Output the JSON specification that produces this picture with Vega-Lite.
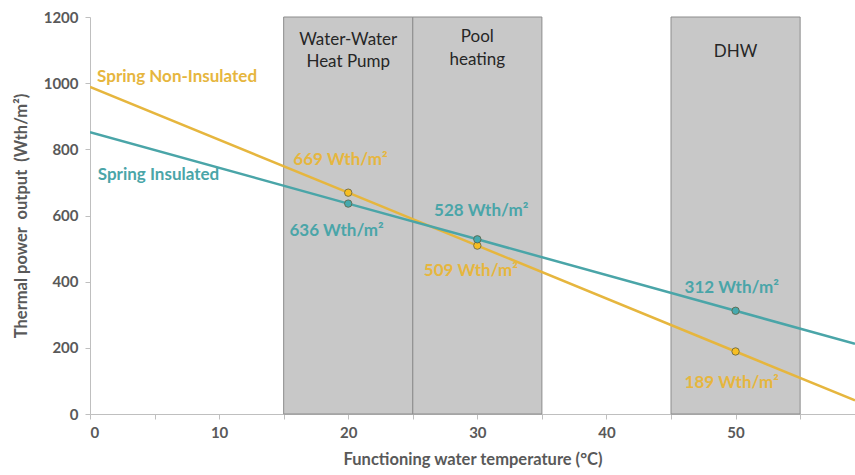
{
  "$schema": "https://vega.github.io/schema/vega-lite/v6.json",
  "width": 765,
  "height": 397,
  "autosize": {"type": "none"},
  "padding": {"left": 90, "top": 17, "right": 0, "bottom": 61},
  "background": "white",
  "config": {"view": {"stroke": null}, "font": "Lato"},
  "datasets": {
    "zones": [
      {"zone": "Water-Water Heat Pump", "start": 15, "end": 25, "top": 1200, "bottom": 0},
      {"zone": "Pool heating", "start": 25, "end": 35, "top": 1200, "bottom": 0},
      {"zone": "DHW", "start": 45, "end": 55, "top": 1200, "bottom": 0}
    ],
    "zoneLabels": [
      {"text": "Water-Water", "x": 20, "y": 1130},
      {"text": "Heat Pump", "x": 20, "y": 1063},
      {"text": "Pool", "x": 30, "y": 1140},
      {"text": "heating", "x": 30, "y": 1070},
      {"text": "DHW", "x": 50, "y": 1093}
    ],
    "lines": [
      {"series": "Spring Non-Insulated", "temp": 0, "power": 989, "marker": false},
      {"series": "Spring Non-Insulated", "temp": 20, "power": 669, "marker": true},
      {"series": "Spring Non-Insulated", "temp": 30, "power": 509, "marker": true},
      {"series": "Spring Non-Insulated", "temp": 50, "power": 189, "marker": true},
      {"series": "Spring Non-Insulated", "temp": 59.25, "power": 41, "marker": false},
      {"series": "Spring Insulated", "temp": 0, "power": 852, "marker": false},
      {"series": "Spring Insulated", "temp": 20, "power": 636, "marker": true},
      {"series": "Spring Insulated", "temp": 30, "power": 528, "marker": true},
      {"series": "Spring Insulated", "temp": 50, "power": 312, "marker": true},
      {"series": "Spring Insulated", "temp": 59.25, "power": 212, "marker": false}
    ],
    "seriesNotes": [
      {"series": "Spring Non-Insulated", "text": "Spring Non-Insulated", "x": 0.55, "y": 1018},
      {"series": "Spring Insulated", "text": "Spring Insulated", "x": 0.6, "y": 722}
    ],
    "valueNotes": [
      {"series": "Spring Non-Insulated", "text": "669 Wth/m²", "x": 19.4, "y": 767},
      {"series": "Spring Insulated", "text": "636 Wth/m²", "x": 19.1, "y": 553},
      {"series": "Spring Insulated", "text": "528 Wth/m²", "x": 30.3, "y": 613},
      {"series": "Spring Non-Insulated", "text": "509 Wth/m²", "x": 29.5, "y": 432},
      {"series": "Spring Insulated", "text": "312 Wth/m²", "x": 49.7, "y": 381},
      {"series": "Spring Non-Insulated", "text": "189 Wth/m²", "x": 49.7, "y": 94}
    ]
  },
  "layer": [
    {
      "data": {"name": "zones"},
      "mark": {"type": "rect", "fill": "#C8C8C8", "stroke": "#8C8C8C", "strokeWidth": 1},
      "encoding": {
        "x": {
          "field": "start", "type": "quantitative",
          "scale": {"domain": [0, 59.25], "nice": false, "zero": false},
          "axis": {
            "values": [0, 5, 10, 15, 20, 25, 30, 35, 40, 45, 50, 55],
            "labelExpr": "datum.value % 10 === 0 ? datum.label : ''",
            "title": "Functioning water temperature (°C)",
            "grid": false,
            "domainColor": "#BFBFBF", "tickColor": "#BFBFBF", "tickSize": 5,
            "labelFontSize": 15, "labelFontWeight": "bold", "labelColor": "#595959", "labelPadding": 6,
            "titleFontSize": 16.5, "titleFontWeight": "bold", "titleColor": "#595959", "titlePadding": 11
          }
        },
        "x2": {"field": "end"},
        "y": {
          "field": "top", "type": "quantitative",
          "scale": {"domain": [0, 1200], "nice": false},
          "axis": {
            "values": [0, 200, 400, 600, 800, 1000, 1200],
            "format": "d",
            "title": "Thermal power\u00a0 output\u00a0 (Wth/m²)",
            "grid": false,
            "domainColor": "#BFBFBF", "tickColor": "#BFBFBF", "tickSize": 5,
            "labelFontSize": 15, "labelFontWeight": "bold", "labelColor": "#595959", "labelPadding": 7,
            "titleFontSize": 16.5, "titleFontWeight": "bold", "titleColor": "#595959", "titlePadding": 14
          }
        },
        "y2": {"field": "bottom"}
      }
    },
    {
      "data": {"name": "zoneLabels"},
      "mark": {"type": "text", "fontSize": 17, "color": "#262626", "align": "center", "baseline": "middle"},
      "encoding": {
        "x": {"field": "x", "type": "quantitative"},
        "y": {"field": "y", "type": "quantitative"},
        "text": {"field": "text"}
      }
    },
    {
      "data": {"name": "lines"},
      "mark": {"type": "line", "strokeWidth": 2.5, "clip": true},
      "encoding": {
        "x": {"field": "temp", "type": "quantitative"},
        "y": {"field": "power", "type": "quantitative"},
        "detail": {"field": "series"},
        "color": {
          "field": "series", "type": "nominal",
          "scale": {"domain": ["Spring Non-Insulated", "Spring Insulated"], "range": ["#E6B63E", "#4AA5A8"]},
          "legend": null
        }
      }
    },
    {
      "data": {"name": "lines"},
      "transform": [{"filter": "datum.marker"}],
      "mark": {"type": "point", "filled": true, "size": 55, "stroke": "#5E5E40", "strokeWidth": 0.8, "opacity": 1},
      "encoding": {
        "x": {"field": "temp", "type": "quantitative"},
        "y": {"field": "power", "type": "quantitative"},
        "fill": {
          "field": "series", "type": "nominal",
          "scale": {"domain": ["Spring Non-Insulated", "Spring Insulated"], "range": ["#F7BE22", "#45A9AE"]},
          "legend": null
        }
      }
    },
    {
      "data": {"name": "seriesNotes"},
      "mark": {"type": "text", "fontSize": 17, "fontWeight": "bold", "baseline": "middle", "align": "left"},
      "encoding": {
        "x": {"field": "x", "type": "quantitative"},
        "y": {"field": "y", "type": "quantitative"},
        "text": {"field": "text"},
        "color": {"field": "series", "type": "nominal", "legend": null}
      }
    },
    {
      "data": {"name": "valueNotes"},
      "mark": {"type": "text", "fontSize": 17, "fontWeight": "bold", "baseline": "middle", "align": "center"},
      "encoding": {
        "x": {"field": "x", "type": "quantitative"},
        "y": {"field": "y", "type": "quantitative"},
        "text": {"field": "text"},
        "color": {"field": "series", "type": "nominal", "legend": null}
      }
    }
  ]
}
